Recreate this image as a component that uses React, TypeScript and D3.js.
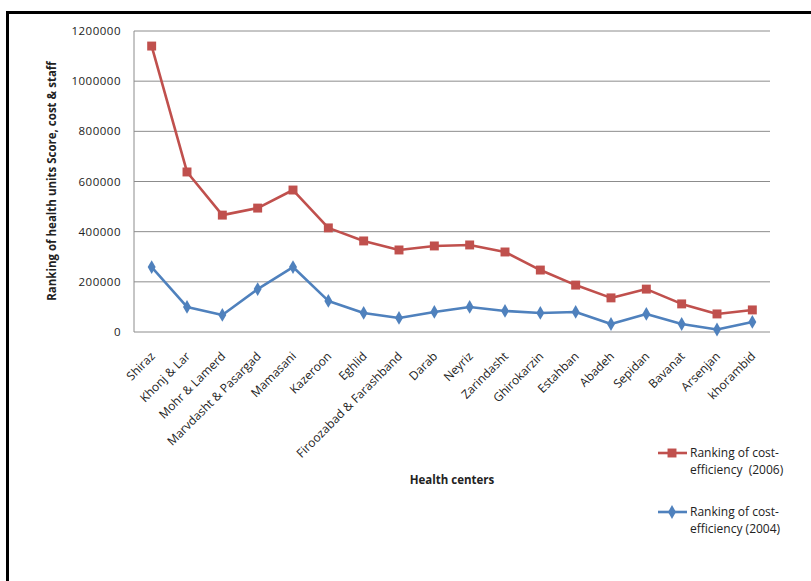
import { useEffect, useRef } from 'react';
import * as d3 from 'd3';

const centers = [
  'Shiraz', 'Khonj & Lar', 'Mohr & Lamerd', 'Marvdasht & Pasargad', 'Mamasani', 'Kazeroon',
  'Eghlid', 'Firoozabad & Farashband', 'Darab', 'Neyriz', 'Zarindasht', 'Ghirokarzin',
  'Estahban', 'Abadeh', 'Sepidan', 'Bavanat', 'Arsenjan', 'khorambid',
];
const ranking2006 = [
  1140000, 638000, 466000, 494000, 566000, 415000, 363000, 327000, 343000,
  347000, 319000, 247000, 187000, 136000, 171000, 112000, 72000, 88000,
];
const ranking2004 = [
  259000, 100000, 68000, 171000, 259000, 124000, 76000, 56000, 80000,
  100000, 84000, 76000, 80000, 32000, 72000, 32000, 10000, 40000,
];
const yTicks = [0, 200000, 400000, 600000, 800000, 1000000, 1200000];

const RED = '#C0504D';
const BLUE = '#4F81BD';
const FONT = "'Open Sans', 'DejaVu Sans', sans-serif";

export default function App() {
  const svgRef = useRef<SVGSVGElement>(null);

  useEffect(() => {
    if (!svgRef.current) return;
    const svg = d3.select(svgRef.current);
    svg.selectAll('*').remove();

    const left = 134, right = 770, top = 31, bottom = 332;

    // outer frame
    svg.append('rect')
      .attr('x', 7.5).attr('y', 12.5)
      .attr('width', 900).attr('height', 700)
      .attr('fill', 'white').attr('stroke', '#000').attr('stroke-width', 3);

    const x = d3.scaleBand<string>().domain(centers).range([left, right]);
    const y = d3.scaleLinear().domain([0, 1200000]).range([bottom, top]);
    const cx = (c: string) => (x(c) ?? 0) + x.bandwidth() / 2;

    // grid
    svg.append('g')
      .selectAll('line')
      .data(yTicks)
      .enter()
      .append('line')
      .attr('x1', left).attr('x2', right)
      .attr('y1', d => y(d)).attr('y2', d => y(d))
      .attr('stroke', '#8c8c8c').attr('stroke-width', 1);

    svg.append('line')
      .attr('x1', left).attr('x2', left)
      .attr('y1', top).attr('y2', bottom)
      .attr('stroke', '#8c8c8c');

    // y tick labels
    svg.append('g')
      .selectAll('text')
      .data(yTicks)
      .enter()
      .append('text')
      .attr('x', left - 13)
      .attr('y', d => y(d))
      .attr('dy', '0.35em')
      .attr('text-anchor', 'end')
      .attr('font-family', FONT)
      .attr('font-size', 11.5)
      .attr('letter-spacing', 0.5)
      .attr('fill', '#222')
      .text(d => String(d));

    // x tick labels
    svg.append('g')
      .selectAll('text')
      .data(centers)
      .enter()
      .append('text')
      .attr('transform', d => `translate(${cx(d) + 1},${bottom + 22}) rotate(-45)`)
      .attr('text-anchor', 'end')
      .attr('dy', '0.35em')
      .attr('font-family', FONT)
      .attr('font-size', 12)
      .attr('fill', '#222')
      .text(d => d);

    // axis titles
    svg.append('text')
      .attr('transform', `translate(56,${181}) rotate(-90)`)
      .attr('text-anchor', 'middle')
      .attr('font-family', FONT)
      .attr('font-size', 11.5)
      .attr('font-weight', 'bold')
      .attr('fill', '#222')
      .text('Ranking of health units Score, cost & staff');

    svg.append('text')
      .attr('x', 452).attr('y', 484)
      .attr('text-anchor', 'middle')
      .attr('font-family', FONT)
      .attr('font-size', 11.5)
      .attr('font-weight', 'bold')
      .attr('fill', '#222')
      .text('Health centers');

    const line = d3.line<number>()
      .x((_, i) => cx(centers[i]))
      .y(d => y(d));

    const drawSeries = (vals: number[], color: string, shape: 'square' | 'diamond') => {
      svg.append('path')
        .attr('d', line(vals) ?? '')
        .attr('fill', 'none')
        .attr('stroke', color)
        .attr('stroke-width', 2.6)
        .attr('stroke-linejoin', 'round');
      const sym = d3.symbol()
        .type(shape === 'square' ? d3.symbolSquare : d3.symbolDiamond)
        .size(shape === 'square' ? 80 : 55);
      svg.append('g')
        .selectAll('path')
        .data(vals)
        .enter()
        .append('path')
        .attr('transform', (d, i) => `translate(${cx(centers[i])},${y(d)})`)
        .attr('d', sym() ?? '')
        .attr('fill', color);
    };

    drawSeries(ranking2006, RED, 'square');
    drawSeries(ranking2004, BLUE, 'diamond');

    // legend
    const legend = [
      { color: RED, shape: 'square', lines: ['Ranking of cost-', 'efficiency  (2006)'], y: 453 },
      { color: BLUE, shape: 'diamond', lines: ['Ranking of cost-', 'efficiency (2004)'], y: 512 },
    ];
    legend.forEach(item => {
      const g = svg.append('g');
      g.append('line')
        .attr('x1', 658).attr('x2', 687)
        .attr('y1', item.y).attr('y2', item.y)
        .attr('stroke', item.color).attr('stroke-width', 2.6);
      g.append('path')
        .attr('transform', `translate(672,${item.y})`)
        .attr('d', d3.symbol()
          .type(item.shape === 'square' ? d3.symbolSquare : d3.symbolDiamond)
          .size(item.shape === 'square' ? 80 : 55)() ?? '')
        .attr('fill', item.color);
      item.lines.forEach((t, k) => {
        g.append('text')
          .attr('x', 690)
          .attr('y', item.y + k * 17)
          .attr('dy', '0.35em')
          .attr('font-family', FONT)
          .attr('font-size', 12)
          .attr('fill', '#222')
          .style('white-space', 'pre')
          .text(t);
      });
    });
  }, []);

  return (
    <svg
      ref={svgRef}
      width={811}
      height={581}
      style={{ position: 'absolute', left: 0, top: 0, background: 'white' }}
    />
  );
}
